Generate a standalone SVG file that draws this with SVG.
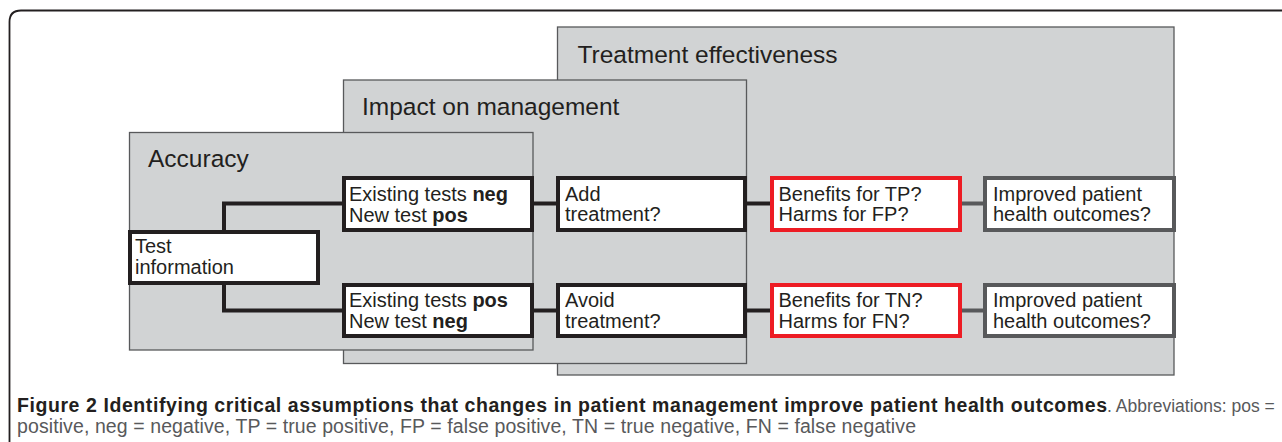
<svg xmlns="http://www.w3.org/2000/svg" width="1282" height="442" viewBox="0 0 1282 442">
<style>
.panel{fill:#d1d3d4;stroke:#58595b;stroke-width:1.3}
.title{font-family:"Liberation Sans",Arial,sans-serif;font-size:24.5px;fill:#231f20}
.box{fill:#ffffff;stroke:#231f20;stroke-width:4}
.red{fill:#ffffff;stroke:#ed1c24;stroke-width:4}
.grey{fill:#ffffff;stroke:#58595b;stroke-width:4}
.t{font-family:"Liberation Sans",Arial,sans-serif;font-size:20px;fill:#231f20}
.b{font-weight:bold}
.conn{fill:none;stroke:#231f20;stroke-width:4}
.conng{fill:none;stroke:#58595b;stroke-width:4}
.cap{font-family:"Liberation Sans",Arial,sans-serif;font-size:19.5px}
</style>
<path d="M9.5 442 L9.5 22 Q9.5 10.5 21 10.5 L1282 10.5" fill="none" stroke="#231f20" stroke-width="1.8"/>
<g id="panel-treatment">
<rect class="panel" x="557.5" y="27" width="616.5" height="348"/>
<text class="title" x="577.5" y="62.5">Treatment effectiveness</text>
</g>
<g id="panel-impact">
<rect class="panel" x="343.5" y="80" width="403" height="283.5"/>
<text class="title" x="362" y="115">Impact on management</text>
</g>
<g id="panel-accuracy">
<rect class="panel" x="129.5" y="132.5" width="403.5" height="217.5"/>
<text class="title" x="148" y="167">Accuracy</text>
</g>
<g id="connectors">
<path class="conn" d="M224 232 V203.5 H344"/>
<path class="conn" d="M224 283 V310.5 H344"/>
<path class="conn" d="M532 203.5 H558"/>
<path class="conn" d="M532 310.5 H558"/>
<path class="conn" d="M745 203.5 H772"/>
<path class="conn" d="M745 310.5 H772"/>
<path class="conng" d="M960 203.5 H985"/>
<path class="conng" d="M960 310.5 H985"/>
</g>
<g id="test-information">
<rect class="box" x="130" y="232" width="188" height="51"/>
<text class="t" x="135" y="252.7">Test</text>
<text class="t" x="135" y="274.3">information</text>
</g>
<g id="existing-neg">
<rect class="box" x="344" y="178" width="188" height="52"/>
<text class="t" x="349" y="201">Existing tests <tspan class="b">neg</tspan></text>
<text class="t" x="349" y="221.5">New test <tspan class="b">pos</tspan></text>
</g>
<g id="existing-pos">
<rect class="box" x="344" y="285" width="188" height="51"/>
<text class="t" x="349" y="307.3">Existing tests <tspan class="b">pos</tspan></text>
<text class="t" x="349" y="327.5">New test <tspan class="b">neg</tspan></text>
</g>
<g id="add-treatment">
<rect class="box" x="558" y="178" width="187" height="52"/>
<text class="t" x="565" y="200.5">Add</text>
<text class="t" x="565" y="221">treatment?</text>
</g>
<g id="avoid-treatment">
<rect class="box" x="558" y="285" width="187" height="51"/>
<text class="t" x="565" y="307">Avoid</text>
<text class="t" x="565" y="327.5">treatment?</text>
</g>
<g id="benefits-tp">
<rect class="red" x="772" y="178" width="188" height="52"/>
<text class="t" x="778.5" y="200.5">Benefits for TP?</text>
<text class="t" x="778.5" y="221">Harms for FP?</text>
</g>
<g id="benefits-tn">
<rect class="red" x="772" y="285" width="188" height="51"/>
<text class="t" x="778.5" y="307">Benefits for TN?</text>
<text class="t" x="778.5" y="327.5">Harms for FN?</text>
</g>
<g id="outcomes-1">
<rect class="grey" x="985" y="178" width="189" height="52"/>
<text class="t" x="993" y="200.5">Improved patient</text>
<text class="t" x="993" y="221">health outcomes?</text>
</g>
<g id="outcomes-2">
<rect class="grey" x="985" y="285" width="189" height="51"/>
<text class="t" x="993" y="307">Improved patient</text>
<text class="t" x="993" y="327.5">health outcomes?</text>
</g>
<g id="caption">
<text class="cap" x="17" y="412" fill="#231f20" font-weight="bold" textLength="1090" lengthAdjust="spacing">Figure 2 Identifying critical assumptions that changes in patient management improve patient health outcomes</text>
<text class="cap" x="1107" y="412" fill="#58595b" style="font-size:17.5px">. Abbreviations: pos =</text>
<text class="cap" x="17" y="433" fill="#58595b" textLength="899" lengthAdjust="spacing">positive, neg = negative, TP = true positive, FP = false positive, TN = true negative, FN = false negative</text>
</g>
</svg>
